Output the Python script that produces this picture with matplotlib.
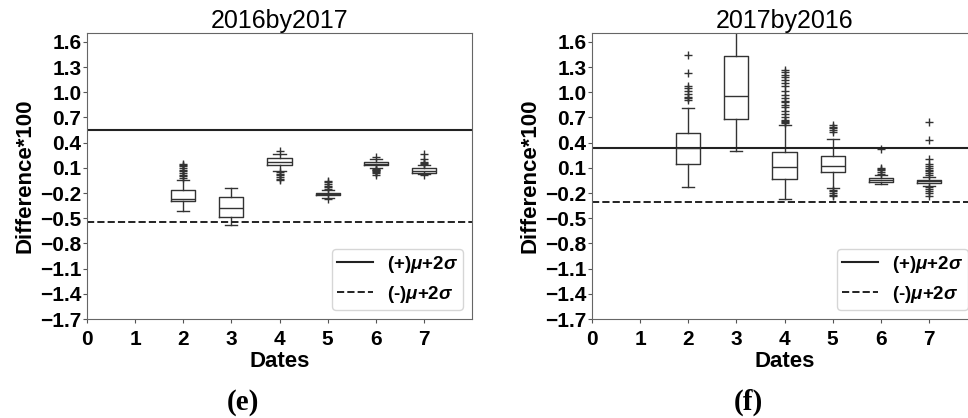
"""Box plots of daily differences, 2016by2017 and 2017by2016."""

import matplotlib

matplotlib.use("Agg")
import matplotlib.pyplot as plt

plt.rcParams["font.family"] = ["Liberation Sans", "DejaVu Sans"]
plt.rcParams["mathtext.fontset"] = "custom"
plt.rcParams["mathtext.it"] = "Liberation Sans:italic:bold"
plt.rcParams["mathtext.rm"] = "Liberation Sans:bold"

DATES = [2, 3, 4, 5, 6, 7]
YTICKS = [1.6, 1.3, 1.0, 0.7, 0.4, 0.1, -0.2, -0.5, -0.8, -1.1, -1.4, -1.7]

# 2016by2017
L_MED = [-0.27, -0.38, 0.175, -0.21, 0.15, 0.064]
L_Q1 = [-0.30, -0.487, 0.136, -0.225, 0.132, 0.037]
L_Q3 = [-0.162, -0.249, 0.215, -0.198, 0.168, 0.097]
L_LO = [-0.41, -0.585, 0.064, -0.255, 0.10, 0.025]
L_HI = [-0.043, -0.134, 0.27, -0.165, 0.21, 0.136]
L_FLIERS = [
    [-0.02, 0.0, 0.02, 0.04, 0.06, 0.08, 0.10, 0.12, 0.14, 0.15],
    [],
    [0.30, 0.05, 0.03, 0.01, -0.01, -0.03, -0.045],
    [-0.15, -0.13, -0.11, -0.09, -0.07, -0.055, -0.27],
    [0.09, 0.08, 0.07, 0.06, 0.05, 0.04, 0.02, 0.23],
    [0.15, 0.16, 0.17, 0.20, 0.27, 0.02],
]
L_UPPER, L_LOWER = 0.55, -0.54

# 2017by2016
R_MED = [0.335, 0.96, 0.112, 0.127, -0.04, -0.06]
R_Q1 = [0.148, 0.68, -0.035, 0.049, -0.063, -0.082]
R_Q3 = [0.52, 1.437, 0.287, 0.247, -0.023, -0.043]
R_LO = [-0.122, 0.302, -0.273, -0.142, -0.094, -0.114]
R_HI = [0.818, 1.90, 0.612, 0.442, 0.017, -0.01]
R_FLIERS = [
    [0.91, 0.93, 0.95, 0.98, 1.02, 1.05, 1.08, 1.23, 1.45],
    [],
    [0.64, 0.65, 0.66, 0.67, 0.70, 0.74, 0.78, 0.82, 0.85, 0.88, 0.90,
     0.93, 0.97, 1.02, 1.07, 1.11, 1.15, 1.18, 1.21, 1.24, 1.27],
    [0.53, 0.55, 0.57, 0.59, 0.61, -0.16, -0.18, -0.20, -0.22, -0.24],
    [0.03, 0.05, 0.07, 0.09, 0.10, 0.33],
    [0.02, 0.04, 0.06, 0.08, 0.10, 0.12, 0.15, 0.20, 0.43, 0.65,
     -0.13, -0.15, -0.17, -0.20, -0.24],
]
R_UPPER, R_LOWER = 0.335, -0.31

INK = "#333333"


def _panel(ax, title, med, q1, q3, lo, hi, fliers, upper, lower):
    stats = [dict(med=m, q1=a, q3=b, whislo=w0, whishi=w1, fliers=f)
             for m, a, b, w0, w1, f in zip(med, q1, q3, lo, hi, fliers)]
    line = dict(color=INK, linewidth=1.0)
    ax.bxp(stats, positions=DATES, widths=0.5, boxprops=line, whiskerprops=line,
           capprops=line, medianprops=line,
           flierprops=dict(marker="+", markeredgecolor=INK, markersize=6,
                           markeredgewidth=1.0))
    ax.axhline(upper, color="#222222", linewidth=1.5, label=r"(+)$\mu$+2$\sigma$")
    ax.axhline(lower, color="#222222", linewidth=1.4, linestyle="--",
               label=r"(-)$\mu$+2$\sigma$")
    ax.set_xlim(0, 8)
    ax.set_ylim(-1.7, 1.71)
    ax.set_xticks(range(8))
    ax.set_xticklabels([str(i) for i in range(8)])
    ax.set_yticks(YTICKS)
    ax.set_yticklabels([f"{v:.1f}".replace("-", "\u2212") for v in YTICKS])
    ax.tick_params(labelsize=15, length=3, color="#555555", pad=1)
    ax.tick_params(axis="x", pad=5)
    for lab in ax.get_xticklabels() + ax.get_yticklabels():
        lab.set_fontweight("bold")
    for s in ax.spines.values():
        s.set_color("#666666")
    ax.set_title(title, fontsize=18, pad=2)
    ax.set_xlabel("Dates", fontsize=16, fontweight="bold", labelpad=1)
    ax.set_ylabel("Difference*100", fontsize=16, fontweight="bold", labelpad=3)
    ax.legend(loc="lower right", prop=dict(weight="bold", size=13.5),
              handlelength=1.9, handletextpad=0.75, borderpad=0.25,
              labelspacing=0.5, borderaxespad=0.5)


def main():
    fig = plt.figure(figsize=(9.68, 4.18), dpi=100)
    ax1 = fig.add_axes([0.0899, 0.2368, 0.3977, 0.685])
    ax2 = fig.add_axes([0.6116, 0.2368, 0.3977, 0.685])
    _panel(ax1, "2016by2017", L_MED, L_Q1, L_Q3, L_LO, L_HI, L_FLIERS,
           L_UPPER, L_LOWER)
    _panel(ax2, "2017by2016", R_MED, R_Q1, R_Q3, R_LO, R_HI, R_FLIERS,
           R_UPPER, R_LOWER)
    fig.text(0.251, 0.037, "(e)", family="Liberation Serif", fontweight="bold",
             fontsize=21, ha="center", va="center")
    fig.text(0.773, 0.037, "(f)", family="Liberation Serif", fontweight="bold",
             fontsize=21, ha="center", va="center")
    fig.savefig("out.png", dpi=100)


if __name__ == "__main__":
    main()
